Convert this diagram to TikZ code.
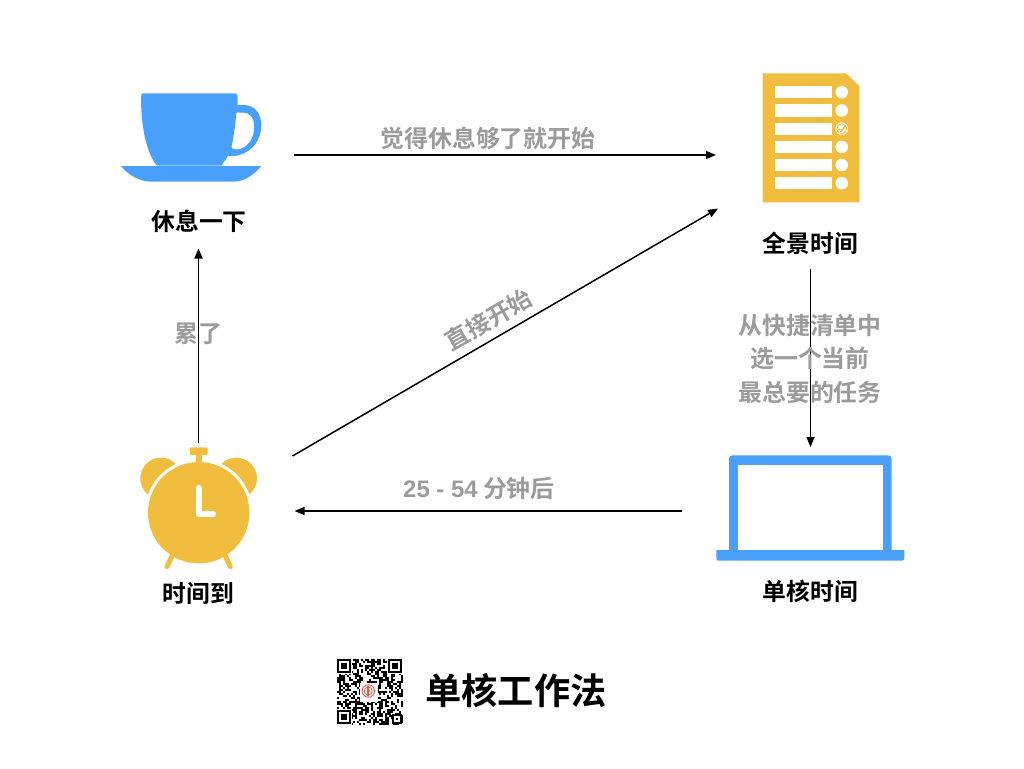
\documentclass[tikz,border=0pt]{standalone}
\usepackage{fontspec}
\setmainfont{Noto Sans CJK SC}[BoldFont={Noto Sans CJK SC Bold}]
\newfontfamily\latinbold{Liberation Sans Bold}
\usetikzlibrary{arrows.meta}
\definecolor{cupblue}{HTML}{49A0FB}
\definecolor{amber}{HTML}{F0BD3F}
\definecolor{labelgray}{HTML}{9B9B9B}
\definecolor{logored}{HTML}{E8564A}
\tikzset{
  flow/.style={draw=black,line width=1.5pt,-{Triangle[length=10pt,width=8pt]}},
  caption/.style={inner sep=0pt,font=\bfseries\fontsize{23.8}{28}\selectfont,text=black},
  edgelabel/.style={inner sep=0pt,align=center,font=\bfseries\fontsize{23.9}{33.5}\selectfont,text=labelgray},
  titletext/.style={inner sep=0pt,font=\bfseries\fontsize{36.2}{42}\selectfont,text=black},
}
\begin{document}
\begin{tikzpicture}[x=1pt,y=-1pt]
\useasboundingbox (0,0) rectangle (1024,768);
\fill[white] (0,0) rectangle (1024,768);

% cup
\fill[cupblue,even odd rule]
  (141,97) .. controls (141,94.5) and (141.8,93.3) .. (144,93.3) -- (235,93.3)
  .. controls (236.8,93.3) and (237.5,94.3) .. (237.5,96) -- (237.5,105)
  -- (244,105) .. controls (255,105) and (261.3,114) .. (261.3,125)
  .. controls (261.3,143) and (248,156) .. (232,156) -- (228,156) -- (221.5,165.5) -- (157,165.5)
  .. controls (146,153) and (141,125) .. (141,97) -- cycle
  (236.3,112.5) -- (243,112.5) .. controls (250,112.5) and (254.2,118) .. (254.2,127)
  .. controls (254.2,140) and (246,149.5) .. (236,149.5) .. controls (233,149.5) and (231.5,148.5) .. (231.5,147)
  .. controls (233.5,137) and (235.5,125) .. (236.3,112.5) -- cycle;
\fill[cupblue] (121,166) -- (261.3,166) .. controls (254,175) and (244,181.7) .. (233,181.7)
  -- (151.7,181.7) .. controls (140,181.7) and (128,175) .. (121,166) -- cycle;

% checklist
\fill[amber] (762.7,73.3) -- (846,73.3) -- (859.3,86) -- (859.3,202.3) -- (762.7,202.3) -- cycle;
\foreach \yt/\yc in {86/92.2,104.3/110.5,122.7/128.8,140.7/146.9,159/165,177/183.2}{
  \fill[white] (775,\yt) rectangle (831.7,\yt+12.3);
  \fill[white] (841.7,\yc) circle[radius=6.3];
}
\draw[amber,line width=0.9pt] (841.7,128.8) circle[radius=5];
\draw[amber,line width=1.5pt] (838.5,128.8) -- (841,131.4) -- (845.6,126);

% clock
\fill[amber] (161,478.4) circle[radius=20.7];
\fill[amber] (236.3,478.4) circle[radius=20.7];
\fill[white] (198.7,512.7) circle[radius=53.8];
\draw[amber,line width=5pt,line cap=round] (171.7,556.7) -- (167,566.5);
\draw[amber,line width=5pt,line cap=round] (225.7,556.7) -- (230.3,566.5);
\fill[amber] (198.7,512.7) circle[radius=50.7];
\fill[amber,rounded corners=1pt] (190,447.3) rectangle (207.7,455);
\fill[amber] (195.7,454) rectangle (202.3,462.5);
\draw[white,line width=6.2pt,line cap=round,line join=round] (198.8,488) -- (198.8,514) -- (213,514);

% laptop
\fill[cupblue,rounded corners=3.5pt] (729,556) -- (729,455.3) -- (891.7,455.3) -- (891.7,556) -- cycle;
\fill[white] (738,464.7) rectangle (883,551);
\fill[cupblue] (716.3,550) -- (904.3,550) -- (904.3,558) .. controls (904.3,560) and (903.3,560.7) .. (901.5,560.7)
  -- (719,560.7) .. controls (717.3,560.7) and (716.3,560) .. (716.3,558) -- cycle;

% QR code
\pgfmathsetseed{11}
\foreach \i in {0,...,32}{
  \foreach \j in {0,...,32}{
    \pgfmathrandominteger{\bit}{0}{1}
    \ifnum\bit=1
      \fill[black] (337+2*\i,659+2*\j) rectangle +(2,2);
    \fi
  }
}
\foreach \qx/\qy in {337/659,388/659,337/710}{
  \fill[white] (\qx-0.6,\qy-0.6) rectangle +(15.2,15.2);
  \fill[black] (\qx,\qy) rectangle +(14,14);
  \fill[white] (\qx+2,\qy+2) rectangle +(10,10);
  \fill[black] (\qx+4,\qy+4) rectangle +(6,6);
}
\fill[black] (392,714) rectangle +(10,10);
\fill[white] (394,716) rectangle +(6,6);
\fill[black] (396,718) rectangle +(2,2);
\fill[white] (360,682.5) rectangle (378,701.5);
\draw[logored,line width=0.9pt] (368.3,691) circle[radius=6.2];
\draw[logored,line width=0.8pt] (368.3,691) circle[radius=4];
\fill[logored] (367.3,686) rectangle (369.3,696);
\fill[logored] (368.3,691) circle[radius=1.8];

% captions
\node[caption] (capRest) at (199,221) {休息一下};
\node[caption] (capPlan) at (810.5,243) {全景时间};
\node[caption] (capDing) at (198.5,594) {时间到};
\node[caption] (capWork) at (810.5,591) {单核时间};
\node[titletext] (title) at (516,691) {单核工作法};

% connector ports on the icons
\coordinate (cupOut) at (294,155);
\coordinate (listIn) at (716,155);
\coordinate (listInB) at (718,208.5);
\coordinate (listOut) at (810.5,269);
\coordinate (lapIn) at (810.5,447);
\coordinate (lapOut) at (681.5,511);
\coordinate (clockIn) at (294.5,511);
\coordinate (clockOutA) at (198.5,443);
\coordinate (clockOutB) at (292.5,456);
\coordinate (cupIn) at (198.5,248.5);

\draw[flow] (cupOut) -- (listIn);
\draw[flow] (clockOutB) -- (listInB);
\draw[flow] (clockOutA) -- (cupIn);
\draw[flow] (listOut) -- (lapIn);
\draw[flow] (lapOut) -- (clockIn);

% connector labels
\node[edgelabel] (l1) at (488,138) {觉得休息够了就开始};
\node[edgelabel] (l2) at (198.5,334) {累了};
\node[edgelabel,rotate=30] (l3) at (488.5,320) {直接开始};
\node[edgelabel] (l4) at (810,358.5) {从快捷清单中\\选一个当前\\最总要的任务};
\node[edgelabel] (l5) at (479,488.5) {{\latinbold 25 - 54} 分钟后};
\end{tikzpicture}
\end{document}
